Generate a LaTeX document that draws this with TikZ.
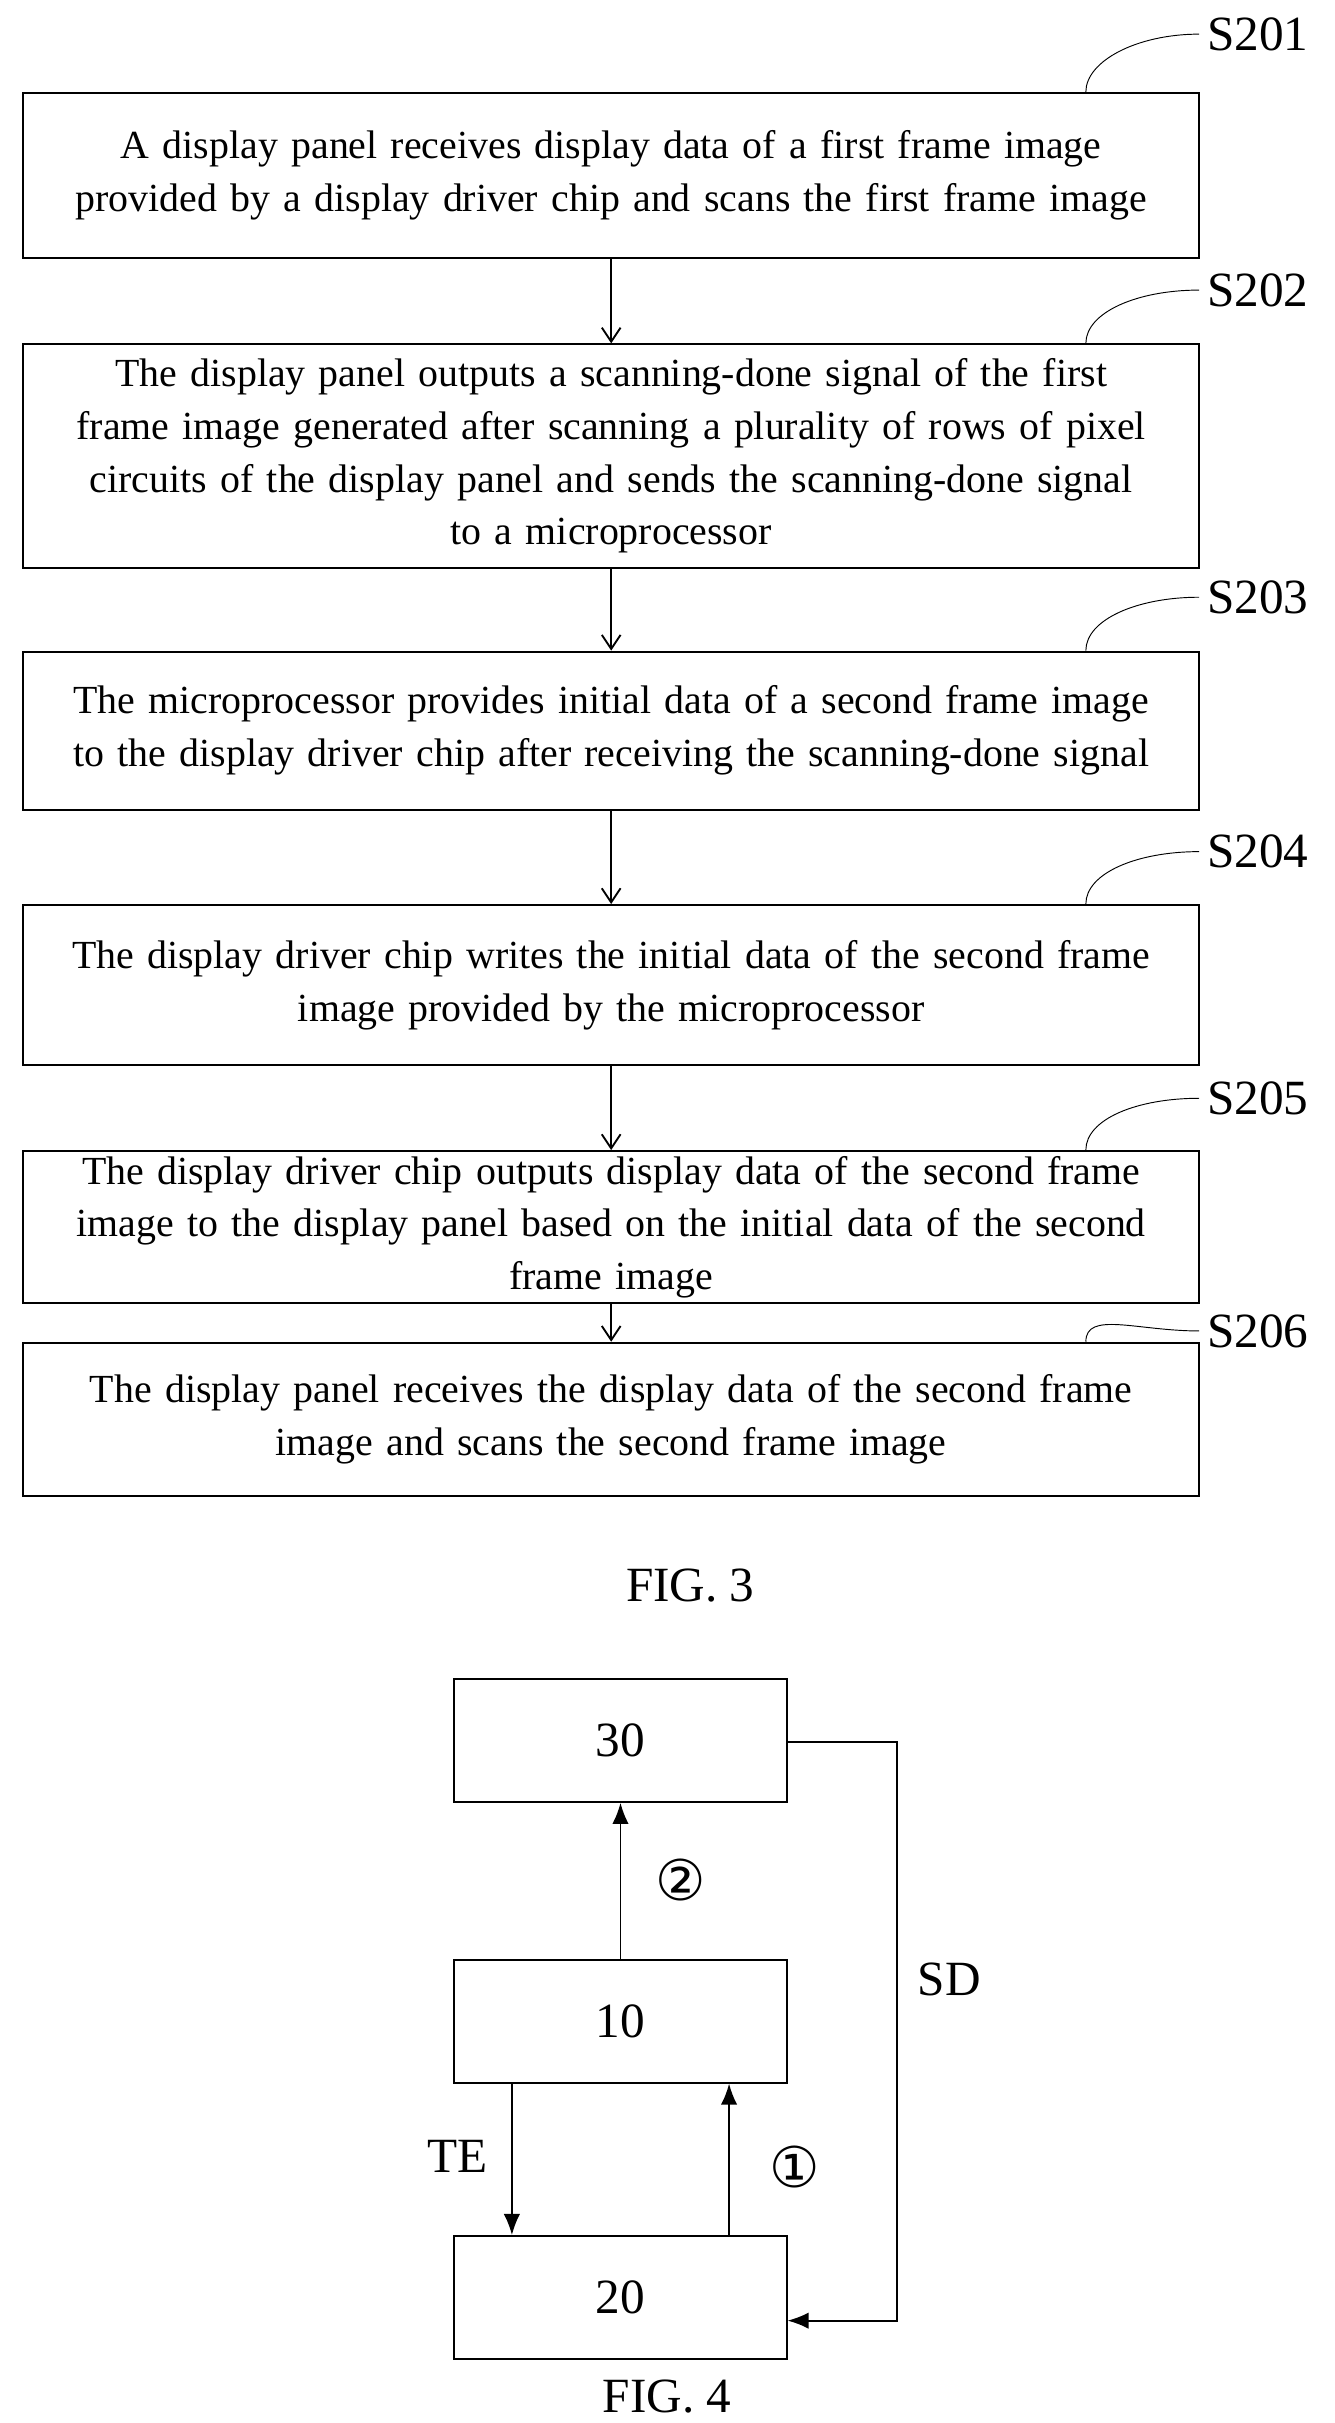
\documentclass[tikz,border=0pt]{standalone}
\usepackage{fontspec}
\setmainfont{Liberation Serif}
\usepackage{tikz}
\usetikzlibrary{positioning}
\usetikzlibrary{arrows.meta}

\tikzset{
	stepbox/.style={draw, thick, minimum width=17.63cm, text width=17.4cm, align=center, inner sep=0pt, font=\fontsize{17}{22.5}\selectfont},
	unit/.style={draw, thick, minimum width=4.98cm, minimum height=1.84cm, font=\fontsize{21}{24}\selectfont},
	tag/.style={font=\fontsize{21}{24}\selectfont},
	circ/.style={font=\fontspec{DejaVu Sans}\fontsize{24}{26}\selectfont},
	flow/.style={thick, -{Straight Barb[length=6pt,width=8pt]}},
	sig/.style={thick, -{Latex[length=9pt,width=7pt]}},
}

\begin{document}
\begin{tikzpicture}[x=0.02326cm, y=-0.02326cm]
		
		% ---------------------
		% Proper size --- Bounding box
		\useasboundingbox (0,0) rectangle (860,1562);
		
		% ---------------------
		% FIG. 3 steps
		\node[stepbox, minimum height=2.47cm] (S1) at (394,113) {A display panel receives display data of a first frame image\\ provided by a display driver chip and scans the first frame image};
		\node[stepbox, minimum height=3.35cm] (S2) at (394,294) {The display panel outputs a scanning-done signal of the first\\ frame image generated after scanning a plurality of rows of pixel\\ circuits of the display panel and sends the scanning-done signal\\ to a microprocessor};
		\node[stepbox, minimum height=2.37cm] (S3) at (394,471) {The microprocessor provides initial data of a second frame image\\ to the display driver chip after receiving the scanning-done signal};
		\node[stepbox, minimum height=2.4cm] (S4) at (394,635) {The display driver chip writes the initial data of the second frame\\ image provided by the microprocessor};
		\node[stepbox, minimum height=2.28cm] (S5) at (394,791) {The display driver chip outputs display data of the second frame\\ image to the display panel based on the initial data of the second\\ frame image};
		\node[stepbox, minimum height=2.3cm] (S6) at (394,915) {The display panel receives the display data of the second frame\\ image and scans the second frame image};
		
		% step tags
		\foreach \s/\y in {1/22, 2/187, 3/385, 4/549, 5/708, 6/858}{
			\node[tag, anchor=west] (T\s) at (773,\y) {S20\s};
			\draw (T\s.west) .. controls +(-40,0) and +(0,-20) .. (S\s.north -| 700,0);
		}
		
		\foreach \a/\b in {S1/S2, S2/S3, S3/S4, S4/S5, S5/S6}
			\draw[flow] (\a.south) -- (\b.north);
		
		\node[tag] (F3) at (445,1022) {FIG. 3};
		
		% ---------------------
		% FIG. 4 blocks
		\node[unit] (U30) at (400,1122) {30};
		\node[unit] (U10) at (400,1303) {10};
		\node[unit] (U20) at (400,1481) {20};
		
		\draw[sig] (U10.north) -- (U30.south);
		\draw[sig] (U10.south -| 330,0) -- (U20.north -| 330,0);
		\draw[sig] (U20.north -| 470,0) -- (U10.south -| 470,0);
		\coordinate (SDtop) at (578,1123);
		\coordinate (SDbot) at (578,1496);
		\draw[sig] (U30.east |- SDtop) -- (SDtop) -- (SDbot) -- (U20.east |- SDbot);
		
		\node[tag] (LSD) at (612,1276) {SD};
		\node[tag] (LTE) at (295,1390) {TE};
		\node[circ] (L1) at (512,1397) {①};
		\node[circ] (L2) at (439,1212) {②};
		
		\node[tag] (F4) at (430,1545) {FIG. 4};
		
\end{tikzpicture}
\end{document}
